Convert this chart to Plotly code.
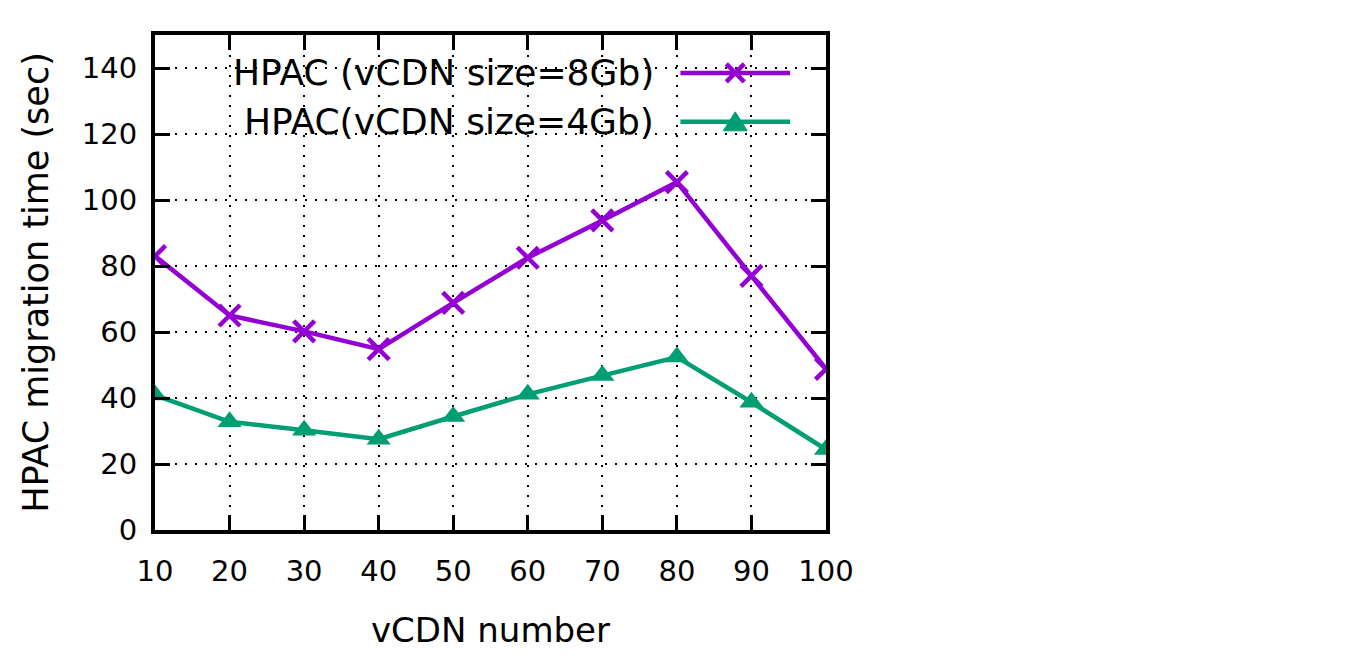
import plotly.graph_objects as go

# data
vcdn_number = [10, 20, 30, 40, 50, 60, 70, 80, 90, 100]
hpac_8gb = [83, 65, 60.2, 54.8, 68.8, 82.5, 93.8, 105.4, 77, 48.8]
hpac_4gb = [40.9, 32.8, 30.2, 27.5, 34.4, 41.1, 46.8, 52.4, 38.7, 24.4]
series_names = ["HPAC (vCDN size=8Gb)", "HPAC(vCDN size=4Gb)"]
y_ticks = [0, 20, 40, 60, 80, 100, 120, 140]

PURPLE = "#9400d3"
GREEN = "#009e73"
FONT = "DejaVu Sans"

fig = go.Figure()

fig.add_trace(go.Scatter(
    x=vcdn_number, y=hpac_8gb, mode="lines+markers", name=series_names[0],
    line=dict(color=PURPLE, width=4.5),
    marker=dict(symbol="x-thin", size=21, line=dict(color=PURPLE, width=4.5)),
))
fig.add_trace(go.Scatter(
    x=vcdn_number, y=hpac_4gb, mode="lines+markers", name=series_names[1],
    line=dict(color=GREEN, width=4.5),
    marker=dict(symbol="triangle-up", size=21, color=GREEN),
))

# page has an 8px body margin, so the figure is a bit smaller and shifted
OFF = 8
W, H = 1366 - 2 * OFF, 658 - 2 * OFF
# plot area in page pixels: x 153..826, y 35..531
L, R, T, B = 155 - OFF, W - (826 - OFF), 35 - OFF, H - (530 - OFF)


# helpers to turn page pixel positions of the reference into paper coords
def px(xp):
    return (xp - 153) / (826 - 153)


def py(yp):
    return (531 - yp) / (531 - 35)


axis_common = dict(
    showline=True, linecolor="black", linewidth=4, mirror="ticks",
    ticks="inside", ticklen=15, tickwidth=3, tickcolor="black",
    showgrid=True, gridcolor="black", gridwidth=2, griddash="2px,8px",
    zeroline=False, tickfont=dict(family=FONT, size=29, color="black"),
)

fig.update_xaxes(range=[10, 100], tickvals=vcdn_number, ticklabelstandoff=12, **axis_common)
fig.update_yaxes(range=[0, 150], tickvals=y_ticks, ticklabelstandoff=8, **axis_common)

# key box in the gnuplot style: opaque, text on the left, sample on the right
shapes = [
    dict(type="rect", xref="paper", yref="paper", x0=px(200), x1=px(805),
         y0=py(150), y1=py(52), fillcolor="white", line=dict(width=0), layer="between"),
]
annotations = []
rows = [(73, PURPLE, series_names[0]), (122, GREEN, series_names[1])]
for yrow, col, name in rows:
    annotations.append(dict(
        text=name, xref="paper", yref="paper", x=px(655), y=py(yrow),
        xanchor="right", yanchor="middle", showarrow=False,
        font=dict(family=FONT, size=36, color="black"),
    ))
    shapes.append(dict(type="line", xref="paper", yref="paper",
                       x0=px(680), x1=px(790), y0=py(yrow), y1=py(yrow),
                       line=dict(color=col, width=4.5), layer="above"))

# sample symbols
shapes += [
    dict(type="line", xref="paper", yref="paper", x0=px(726), x1=px(744),
         y0=py(64), y1=py(82), line=dict(color=PURPLE, width=4.5), layer="above"),
    dict(type="line", xref="paper", yref="paper", x0=px(726), x1=px(744),
         y0=py(82), y1=py(64), line=dict(color=PURPLE, width=4.5), layer="above"),
    dict(type="path", xref="paper", yref="paper",
         path=f"M {px(735)},{py(112)} L {px(747)},{py(131)} L {px(723)},{py(131)} Z",
         fillcolor=GREEN, line=dict(color=GREEN, width=1), layer="above"),
]

annotations += [
    dict(text="HPAC migration time (sec)", xref="paper", yref="paper",
         x=px(33), y=0.5, textangle=-90, xanchor="center", yanchor="middle",
         showarrow=False, font=dict(family=FONT, size=35, color="black")),
    dict(text="vCDN number", xref="paper", yref="paper",
         x=0.5, y=py(631), xanchor="center", yanchor="middle",
         showarrow=False, font=dict(family=FONT, size=34, color="black")),
]

fig.update_layout(
    width=W, height=H,
    margin=dict(l=L, r=R, t=T, b=B),
    paper_bgcolor="white", plot_bgcolor="white",
    showlegend=False,
    shapes=shapes, annotations=annotations,
    font=dict(family=FONT, color="black"),
)

fig.write_html("out.html")
